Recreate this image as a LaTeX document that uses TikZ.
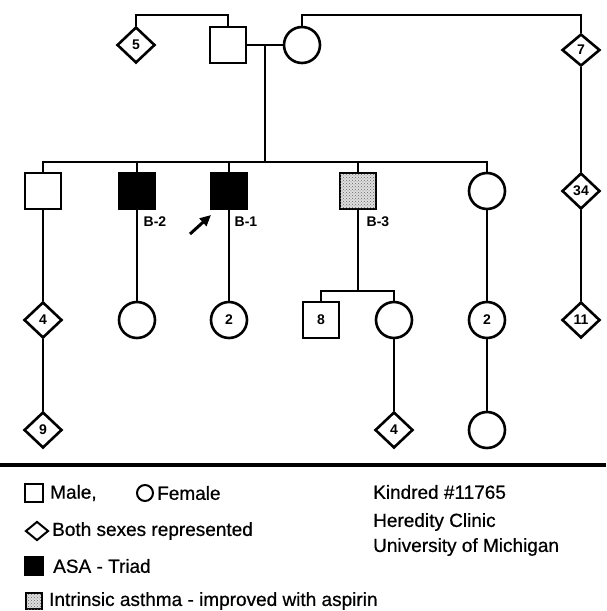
\documentclass[tikz,border=0pt]{standalone}
\usepackage{fontspec}
\setmainfont{Liberation Sans}
\newfontfamily\legfont{Liberation Sans}[FakeBold=0.6]
\usetikzlibrary{arrows.meta,shapes.geometric,patterns}

\begin{document}
\begin{tikzpicture}[
  x=1pt, y=-1pt,
  male/.style={rectangle, draw=black, line width=2.6pt, fill=white,
               minimum size=36pt, inner sep=0pt,
               font=\fontsize{14}{14}\selectfont\bfseries},
  female/.style={circle, draw=black, line width=2.6pt, fill=white,
                 minimum size=36pt, inner sep=0pt,
                 font=\fontsize{14}{14}\selectfont\bfseries},
  both/.style={diamond, draw=black, line width=2.6pt, fill=white,
               minimum width=38pt, minimum height=36pt, inner sep=0pt,
               font=\fontsize{14}{14}\selectfont\bfseries},
  triad/.style={male, fill=black},
  asthma/.style={male, fill=gray!25,
                 postaction={pattern=crosshatch dots, pattern color=black!60}},
  lnk/.style={line width=2.2pt},
  lbl/.style={font=\fontsize{14}{14}\selectfont\bfseries, inner sep=0pt},
  legtext/.style={anchor=west, inner sep=0pt,
                  font=\legfont\fontsize{19}{22}\selectfont},
  arr/.style={-{Triangle[length=11pt,width=10pt]}, line width=3pt},
]
\useasboundingbox (0,0) rectangle (606,611);

%% Generation I
\node[both]   (d5) at (136,45) {5};
\node[male]   (fa) at (228,45) {};
\node[female] (mo) at (302,45) {};
\node[both, minimum height=32pt] (d7) at (581,50) {7};

%% Generation II
\node[male]   (c1) at (43,191) {};
\node[triad]  (c2) at (137,191) {};
\node[triad]  (c3) at (229,191) {};
\node[asthma] (c4) at (358,191) {};
\node[female] (c5) at (487,191) {};
\node[both]   (d34) at (581,191) {34};

\node[lbl] (b2) at (155,222) {B-2};
\node[lbl] (b1) at (246,222) {B-1};
\node[lbl] (b3) at (378,222) {B-3};

%% Generation III
\node[both]   (g1) at (43,320) {4};
\node[female] (g2) at (137,320) {};
\node[female] (g3) at (229,320) {2};
\node[male]   (g4) at (321,320) {8};
\node[female] (g5) at (394,320) {};
\node[female] (g6) at (487,320) {2};
\node[both]   (d11) at (581,320) {11};

%% Generation IV
\node[both]   (h1) at (43,430) {9};
\node[both]   (h5) at (394,430) {4};
\node[female] (h6) at (487,430) {};

%% ── Lines ──────────────────────────────────────────────
\draw[lnk] (d5.north) -- ++(0,-11) -| (fa.north);
\draw[lnk] (mo.north) -- ++(0,-11) -| (d7.north);
\draw[lnk] (fa) -- (mo);

%% descent from the couple to the sibship line
\coordinate (mar) at (265,45);
\coordinate (sib) at (265,163);
\draw[lnk] (mar) -- (sib);
\draw[lnk] (c1.north) -- ++(0,-10) -| (c5.north);
\draw[lnk] (c2.north) -- ++(0,-10);
\draw[lnk] (c3.north) -- ++(0,-10);
\draw[lnk] (c4.north) -- ++(0,-10);

\draw[lnk] (d7) -- (d34);
\draw[lnk] (d34) -- (d11);

\draw[lnk] (c1) -- (g1);
\draw[lnk] (g1) -- (h1);
\draw[lnk] (c2) -- (g2);
\draw[lnk] (c3) -- (g3);
\draw[lnk] (c5) -- (g6);
\draw[lnk] (g6) -- (h6);
\draw[lnk] (g5) -- (h5);

%% B-3 offspring
\coordinate (sub) at (358,292);
\draw[lnk] (c4.south) -- (sub);
\draw[lnk] (g4.north) -- ++(0,-10) -| (g5.north);

%% proband arrow
\coordinate (arrtail) at (190,234);
\coordinate (arrtip) at (211,215);
\draw[arr] (arrtail) -- (arrtip);

%% ── Legend ─────────────────────────────────────────────
\coordinate (rulel) at (0,465);
\coordinate (ruler) at (606,465);
\draw[line width=4.5pt] (rulel) -- (ruler);

\node[male, minimum size=18pt, line width=2pt] (kmale) at (34,493) {};
\node[legtext] (tmale) at (50,493) {Male,};
\node[female, minimum size=16pt, line width=2pt] (kfem) at (145,493) {};
\node[legtext] (tfem) at (157,493) {Female};
\node[both, minimum width=23pt, minimum height=19pt, line width=2pt]
  (kboth) at (37,531) {};
\node[legtext] (tboth) at (52,531) {Both sexes represented};
\node[triad, minimum size=18pt, line width=2pt] (ktri) at (34,566) {};
\node[legtext] (ttri) at (53,566) {ASA - Triad};
\node[asthma, minimum size=16pt, line width=1.6pt] (kast) at (34,601) {};
\node[legtext] (tast) at (49,601) {Intrinsic asthma - improved with aspirin};

\node[legtext] (kin) at (373,492) {Kindred \#11765};
\node[legtext] (her) at (373,522) {Heredity Clinic};
\node[legtext] (uni) at (373,547) {University of Michigan};

\end{tikzpicture}
\end{document}
